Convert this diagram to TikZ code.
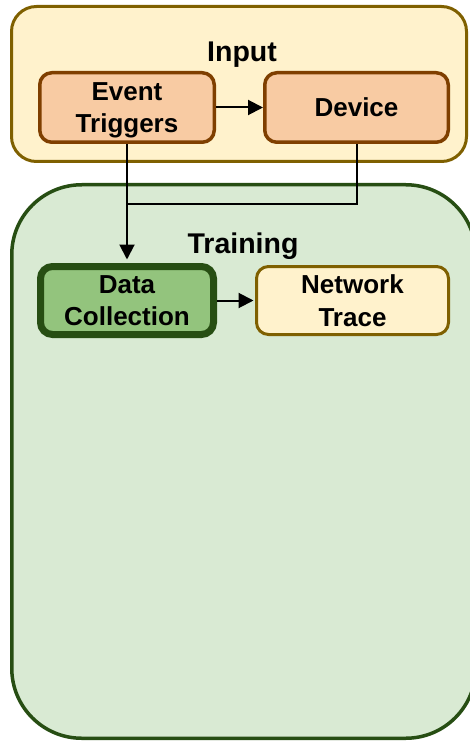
\documentclass[tikz,border=0pt]{standalone}
\usepackage{fontspec}
\setmainfont{Liberation Sans}
\usetikzlibrary{arrows.meta}
\definecolor{inFill}{HTML}{FFF2CC}
\definecolor{inDraw}{HTML}{7F6000}
\definecolor{evFill}{HTML}{F8CBA3}
\definecolor{evDraw}{HTML}{7F3F00}
\definecolor{trFill}{HTML}{D9EAD3}
\definecolor{trDraw}{HTML}{274E13}
\definecolor{dcFill}{HTML}{93C47D}
\tikzset{
  group/.style={rectangle, inner sep=0pt},
  grouptitle/.style={anchor=base, inner sep=0pt, font=\fontsize{28.5}{34}\selectfont\bfseries},
  box/.style={rectangle, inner sep=0pt, rounded corners=12pt, align=center, text depth=0pt,
    font=\fontsize{26}{32.3}\selectfont\bfseries},
  conn/.style={line width=2pt, -{Triangle[length=15pt,width=15pt]}},
  link/.style={line width=2pt}
}
\begin{document}
\begin{tikzpicture}[x=1pt,y=-1pt]
\useasboundingbox (0,0) rectangle (470,743);
\clip (0,0) rectangle (470,743);
% groups
\node[group, fill=inFill, draw=inDraw, line width=3pt, rounded corners=25pt,
  minimum width=455pt, minimum height=155pt] (input) at (239,84) {};
\node[group, fill=trFill, draw=trDraw, line width=3.5pt, rounded corners=70pt,
  minimum width=464pt, minimum height=553.5pt] (training) at (243.75,461.5) {};
\node[grouptitle] (inputlbl) at (242,62) {Input};
\node[grouptitle] (traininglbl) at (243,253) {Training};
% boxes
\node[box, fill=evFill, draw=evDraw, line width=3.5pt,
  minimum width=174.5pt, minimum height=69.5pt] (event) at (127,107.5) {Event\\Triggers};
\node[box, fill=evFill, draw=evDraw, line width=3.5pt,
  minimum width=183.5pt, minimum height=69.5pt] (device) at (356.5,107.5) {Device};
\node[box, fill=dcFill, draw=trDraw, line width=7pt,
  minimum width=173pt, minimum height=68pt] (dc) at (127,300.5) {Data\\Collection};
\node[box, fill=inFill, draw=inDraw, line width=3pt,
  minimum width=192pt, minimum height=68pt] (nt) at (352.5,300.5) {Network\\Trace};
% connectors
\coordinate (join) at (127,204);
\draw[conn] (event) -- (device);
\draw[conn, shorten >=3.5pt] (event.south) -- (dc.north);
\draw[link] (device.south) |- (join);
\draw[conn, shorten >=1.5pt] (dc.east) -- (nt.west);
\end{tikzpicture}
\end{document}
